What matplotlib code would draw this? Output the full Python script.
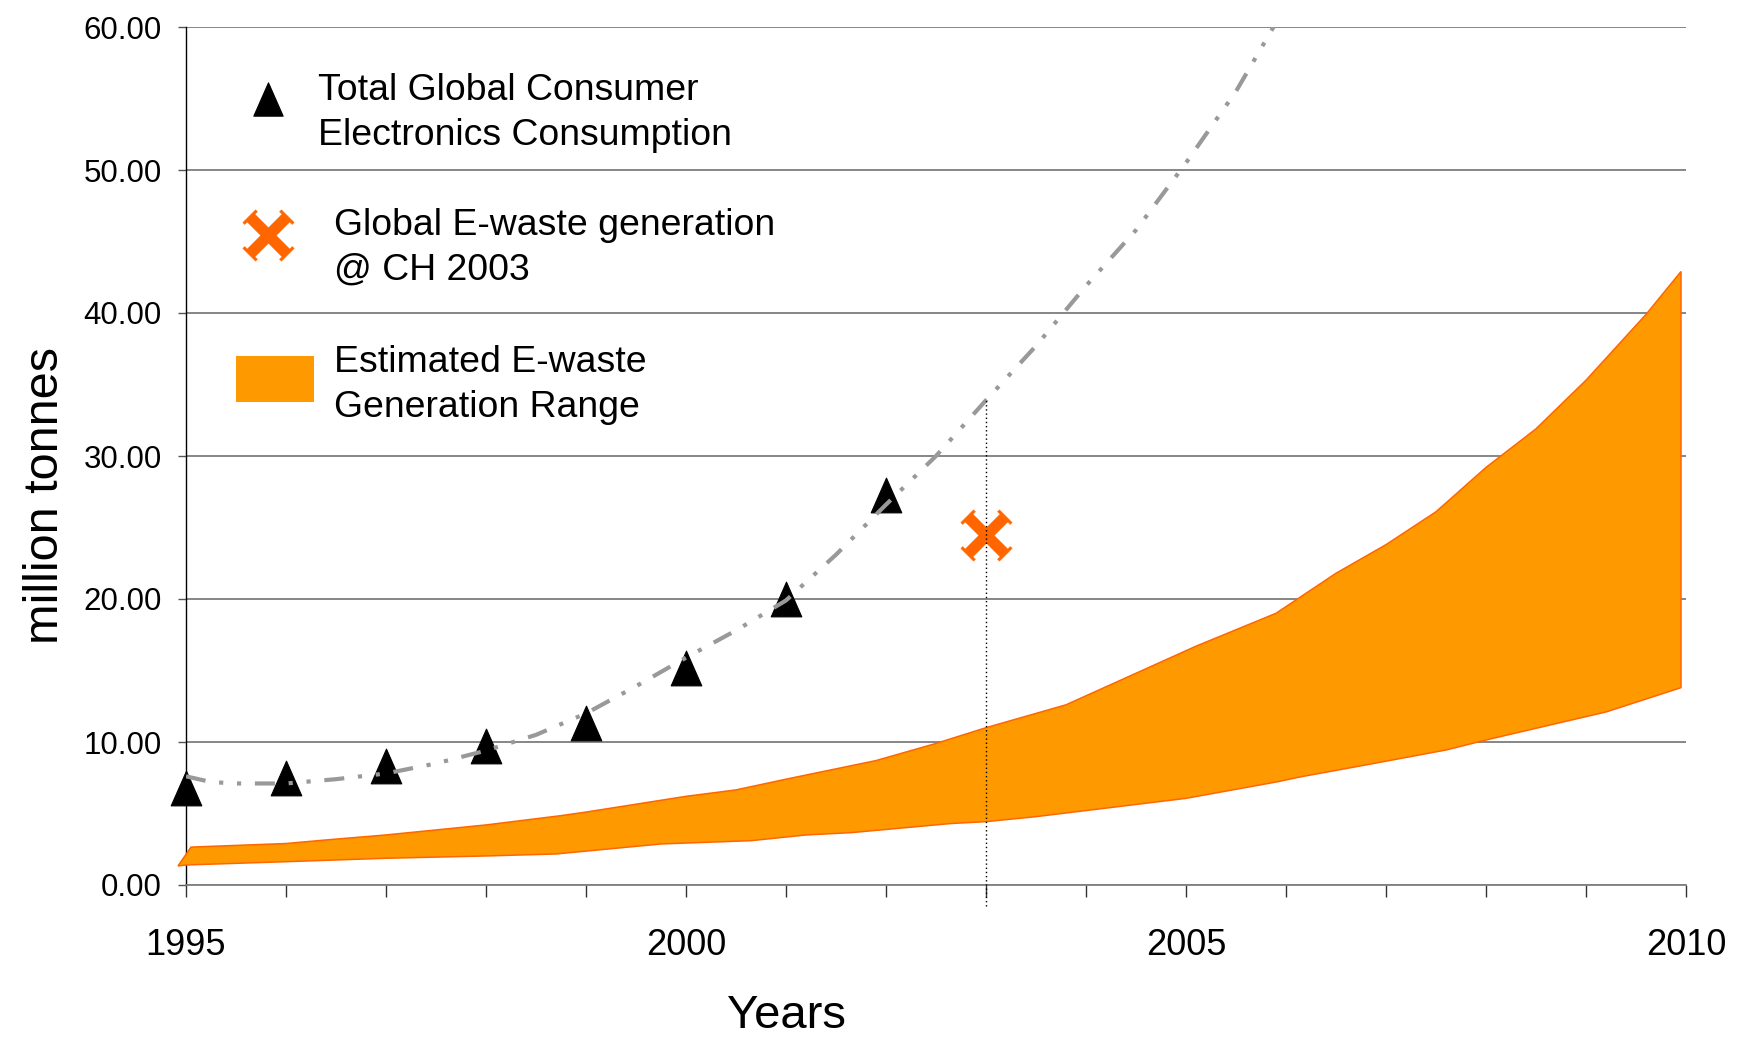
import matplotlib
matplotlib.use("Agg")
import matplotlib.pyplot as plt
from matplotlib.path import Path
from matplotlib.lines import Line2D
from matplotlib.patches import Rectangle
import numpy as np

# ---------------- data ----------------
consumption_years = [1995, 1996, 1997, 1998, 1999, 2000, 2001, 2002]
consumption_values = [6.75, 7.45, 8.35, 9.7, 11.35, 15.15, 20.0, 27.3]

trend_years = [1995.0, 1995.25, 1995.5, 1996.0, 1996.5, 1997.0, 1997.5, 1998.0,
               1998.5, 1999.0, 1999.5, 2000.0, 2000.5, 2001.0, 2001.5, 2002.0,
               2002.5, 2003.0, 2003.5, 2004.0, 2004.5, 2005.0, 2005.5, 2006.0]
trend_values = [7.6, 7.2, 7.1, 7.1, 7.4, 7.8, 8.5, 9.4,
                10.5, 12.0, 13.9, 15.9, 17.8, 19.9, 23.1, 26.6,
                30.0, 33.9, 37.7, 41.9, 45.8, 50.5, 55.5, 61.5]

upper_years = [1995.05, 1996.0, 1996.4, 1997.0, 1998.0, 1998.75, 1999.0, 2000.0,
               2000.5, 2001.0, 2001.9, 2002.5, 2003.0, 2003.8, 2005.1, 2005.9,
               2006.5, 2007.0, 2007.5, 2008.0, 2008.5, 2009.0, 2009.6, 2009.95]
upper_values = [2.65, 2.9, 3.15, 3.5, 4.2, 4.85, 5.1, 6.2,
                6.65, 7.4, 8.7, 9.9, 11.0, 12.6, 16.7, 19.0,
                21.8, 23.8, 26.1, 29.2, 31.9, 35.3, 39.9, 42.9]

lower_years = [1994.92, 1995.0, 1996.0, 1997.0, 1998.0, 1998.7, 1999.75, 2000.65,
               2001.2, 2001.65, 2002.65, 2003.0, 2003.5, 2005.0, 2005.9, 2006.15,
               2006.8, 2007.6, 2008.0, 2008.5, 2009.2, 2009.95]
lower_values = [1.33, 1.4, 1.63, 1.87, 2.03, 2.17, 2.87, 3.1,
                3.5, 3.66, 4.3, 4.43, 4.78, 6.06, 7.2, 7.57,
                8.4, 9.44, 10.14, 10.96, 12.1, 13.8]

ch_years = [2003]
ch_values = [24.5]

ref_year = 2003
ref_range = [-1.5, 33.9]

y_ticks = [0, 10, 20, 30, 40, 50, 60]
x_major = [1995, 2000, 2005, 2010]
x_minor = list(range(1995, 2011))

legend_labels = [["Total Global Consumer", "Electronics Consumption"],
                 ["Global E-waste generation", "@ CH 2003"],
                 ["Estimated E-waste", "Generation Range"]]

# ---------------- style ----------------
plt.rcParams['font.family'] = ['Liberation Sans', 'DejaVu Sans']
W, H = 1744, 1038
fig = plt.figure(figsize=(W / 100, H / 100), dpi=100)
ax = fig.add_axes([186 / W, 1 - 885 / H, 1500 / W, 858 / H])

ORANGE_FILL = '#FF9900'
ORANGE_EDGE = '#FF6600'


def ibeam(angle_deg, L=1.0, w=0.2, c=0.33, t=0.1):
    pts = [(-L, -c), (-L + t, -c), (-L + t, -w), (L - t, -w), (L - t, -c), (L, -c),
           (L, c), (L - t, c), (L - t, w), (-L + t, w), (-L + t, c), (-L, c)]
    a = np.deg2rad(angle_deg)
    ca, sa = np.cos(a), np.sin(a)
    verts = [(u * ca - v * sa, u * sa + v * ca) for u, v in pts]
    verts.append(verts[0])
    codes = [Path.MOVETO] + [Path.LINETO] * (len(verts) - 2) + [Path.CLOSEPOLY]
    return Path(verts, codes)


XM1 = ibeam(45)
XM2 = ibeam(-45)
XSIZE = 37

TRI = Path([(0, 1), (-0.88, -1), (0.88, -1), (0, 1)],
           [Path.MOVETO, Path.LINETO, Path.LINETO, Path.CLOSEPOLY])

# grid
ax.set_xlim(1995, 2010)
ax.set_ylim(0, 60)
ax.set_axisbelow(True)
ax.yaxis.grid(True, color='#666666', lw=1.1)
ax.xaxis.grid(False)

for s in ['top', 'right']:
    ax.spines[s].set_visible(False)
ax.spines['left'].set_color('black')
ax.spines['left'].set_linewidth(1.0)
ax.spines['bottom'].set_color('#808080')
ax.spines['bottom'].set_linewidth(1.3)

ax.set_yticks(y_ticks)
ax.set_yticklabels([f"{v:.2f}" for v in y_ticks])
ax.set_xticks(x_major)
ax.set_xticklabels([str(v) for v in x_major])
ax.set_xticks(x_minor, minor=True)
ax.tick_params(axis='y', direction='out', length=6, width=1, color='#555555',
               pad=11.5, labelsize=22.5)
ax.tick_params(axis='x', which='both', direction='out', length=8.8, width=1,
               color='#333333', pad=22, labelsize=26)

# band
band_x = upper_years + lower_years[::-1]
band_y = upper_values + lower_values[::-1]
ax.fill(band_x, band_y, facecolor=ORANGE_FILL, edgecolor=ORANGE_EDGE, lw=1.1,
        zorder=3, clip_on=False)

# triangles
ax.plot(consumption_years, consumption_values, ls='none', marker=TRI, ms=25,
        mfc='black', mec='black', mew=0.8, zorder=4, clip_on=False)

# trend
ax.plot(trend_years, trend_values, color='#999999', lw=3,
        ls=(0, (4.8, 3.3, 1.0, 3.3, 1.0, 3.3)), zorder=5)

# CH point
for m in (XM1, XM2):
    ax.plot(ch_years, ch_values, ls='none', marker=m, ms=XSIZE, mfc=ORANGE_EDGE,
            mec=ORANGE_EDGE, mew=0.3, zorder=6, clip_on=False)

# reference dotted line
ax.plot([ref_year, ref_year], ref_range, color='black', lw=1.0,
        ls=(0, (1, 2)), zorder=7, clip_on=False)

# axis labels
fig.text(787 / W, 1 - 1028 / H, "Years", fontsize=34, ha='center', va='baseline')
fig.text(45.5 / W, 1 - 496 / H, "million tonnes", fontsize=35, rotation=90,
         ha='center', va='center')

# manual legend
LFS = 26.9
fig.add_artist(Line2D([267.5 / W], [1 - 99 / H], ls='none', marker=TRI, ms=24,
                      mfc='black', mec='black', mew=0.8, transform=fig.transFigure))
for m in (XM1, XM2):
    fig.add_artist(Line2D([267.5 / W], [1 - 235 / H], ls='none', marker=m, ms=XSIZE,
                          mfc=ORANGE_EDGE, mec=ORANGE_EDGE, mew=0.3,
                          transform=fig.transFigure))
fig.add_artist(Rectangle((236 / W, 1 - 402 / H), 77.6 / W, 46 / H,
                         facecolor=ORANGE_FILL, edgecolor='none',
                         transform=fig.transFigure))

label_pos = [(318, 100, 145), (333.6, 235, 280), (333.6, 371.7, 416.7)]
for (lx, b1, b2), lines in zip(label_pos, legend_labels):
    fig.text(lx / W, 1 - b1 / H, lines[0], fontsize=LFS, ha='left', va='baseline')
    fig.text(lx / W, 1 - b2 / H, lines[1], fontsize=LFS, ha='left', va='baseline')

fig.savefig("out.png", dpi=100)
